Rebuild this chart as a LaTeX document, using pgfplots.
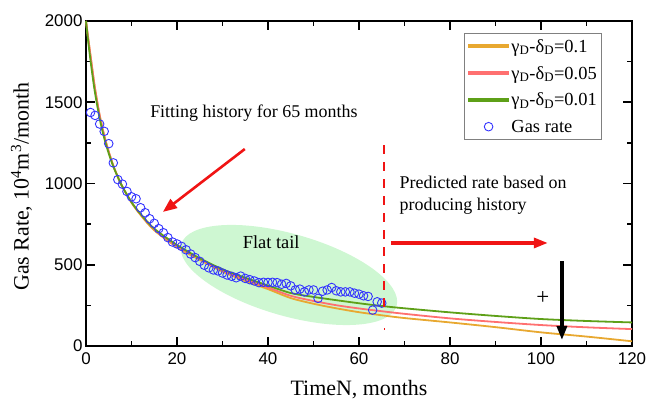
\documentclass[border=0pt]{standalone}
\usepackage{pgfplots}
\pgfplotsset{compat=1.18}
\usepackage{fontspec}
\setmainfont{Liberation Serif}
\newfontfamily\arialf{Liberation Sans}
\usetikzlibrary{arrows.meta}
\definecolor{cyel}{RGB}{232,168,48}
\definecolor{cred}{RGB}{255,112,112}
\definecolor{cgrn}{RGB}{94,160,24}
\definecolor{cblu}{RGB}{51,51,255}
\definecolor{cell}{RGB}{206,247,210}
\definecolor{carr}{RGB}{240,20,20}
\pgfplotsset{curvelegend/.style={legend image code/.code={\fill[#1] (0bp,-1.1bp) rectangle (40bp,1.1bp);}}}
\begin{document}
\begin{tikzpicture}[line width=1.8bp]
\begin{axis}[name=ax,
  scale only axis, width=546bp, height=325bp,
  xmin=0, xmax=120, ymin=0, ymax=2000,
  xtick={0,20,...,120}, ytick={0,500,...,2000},
  minor x tick num=1, minor y tick num=1,
  tick align=inside, tick pos=both,
  major tick length=9bp, minor tick length=5bp,
  axis line style={line width=1.8bp},
  every tick/.style={line width=1.6bp, black},
  /pgf/number format/assume math mode=true,
  scaled ticks=false,
  /pgf/number format/1000 sep={},
  tick label style={font=\arialf\fontsize{17}{17}\selectfont},
  xticklabel style={yshift=-3bp},
  xlabel={TimeN, months},
  ylabel={Gas Rate, 10\textsuperscript{4}m\textsuperscript{3}/month},
  label style={font=\fontsize{22}{24}\selectfont},
  xlabel style={at={(axis description cs:0.5,-0.135)}, anchor=center},
  ylabel style={at={(axis description cs:-0.118,0.49)}, anchor=center},
  legend style={at={(rel axis cs:0.945,0.963)}, anchor=north east,
    draw=gray, line width=0.5bp, font=\fontsize{18.5}{20}\selectfont,
    row sep=8.5bp, inner xsep=3bp, inner ysep=4bp, cells={anchor=west}},
  legend image code/.code={\draw[mark repeat=2,mark phase=2,#1] plot coordinates {(0bp,0bp) (20bp,0bp) (40bp,0bp)};},
  clip=false,
]
\fill[cell, rotate around={-16:(axis cs:44.6,437)}] (axis cs:44.6,437) ellipse (112bp and 41bp);

\addplot[color=cyel, line width=1.8bp, smooth, curvelegend] coordinates {
(0,2000)(0.5,1890)(1,1785)(1.5,1680)(2,1580)(3,1420)(4,1295)(5,1195)(6,1110)(7,1040)(8,980)(10,882)(12,806)(15,712)(20,608)(25,530)(30,458)(35,400)(40,350)(45,295)(50,260)(55,232)(60,208)(65,189)(70,172)(80,145)(90,116)(100,84)(110,58)(120,29)};
\addlegendentry{γ\textsubscript{D}-δ\textsubscript{D}=0.1}
\addplot[color=cred, line width=1.8bp, smooth, curvelegend] coordinates {
(0,2000)(0.5,1890)(1,1785)(1.5,1680)(2,1580)(3,1420)(4,1295)(5,1195)(6,1110)(7,1040)(8,980)(10,885)(12,810)(15,718)(20,615)(25,535)(30,465)(35,410)(40,360)(45,309)(50,277)(55,251)(60,231)(65,214)(70,198)(80,170)(90,148)(100,129)(110,115)(120,104)};
\addlegendentry{γ\textsubscript{D}-δ\textsubscript{D}=0.05}
\addplot[color=cgrn, line width=1.8bp, smooth, curvelegend] coordinates {
(0,2000)(0.5,1870)(1,1755)(1.5,1650)(2,1555)(3,1400)(4,1280)(5,1185)(6,1105)(7,1040)(8,980)(10,885)(12,812)(15,722)(20,622)(25,540)(30,472)(35,420)(40,372)(45,326)(50,302)(55,282)(60,263)(65,246)(70,232)(80,207)(90,185)(100,166)(110,154)(120,145)};
\addlegendentry{γ\textsubscript{D}-δ\textsubscript{D}=0.01}
\addplot[only marks, mark=o, mark size=4.3bp, cblu, mark options={line width=0.9bp}] coordinates {
(1,1437)(2,1419)(3,1366)(4,1321)(5,1245)(6,1127)(7,1024)(8,996)(9,951)(10,918)
(11,906)(12,851)(13,820)(14,783)(15,755)(16,722)(17,697)(18,667)(19,640)(20,628)
(21,613)(22,592)(23,566)(24,544)(25,521)(26,497)(27,481)(28,468)(29,462)(30,449)
(31,437)(32,429)(33,420)(34,430)(35,416)(36,408)(37,400)(38,390)(39,392)(40,391)
(41,392)(42,390)(43,380)(44,385)(45,370)(46,345)(47,350)(48,333)(49,345)(50,345)
(51,293)(52,337)(53,345)(54,360)(55,340)(56,333)(57,333)(58,333)(59,325)(60,319)
(61,309)(62,305)(63,221)(64,272)(65,264)};
\addlegendentry{Gas rate}

\coordinate (d1) at (axis cs:65.5,1237);
\draw[carr, line width=1bp] (axis cs:65.5,108) -- (axis cs:65.5,100);
\draw[carr, line width=2.6bp, -{Triangle[length=14bp,width=11bp]}] (axis cs:34.9,1212) -- (axis cs:16.9,825);
\draw[carr, line width=3.2bp, -{Triangle[length=14bp,width=10bp]}] (axis cs:67.0,634) -- (axis cs:101.5,634);
\draw[black, line width=3.2bp, -{Triangle[length=14bp,width=10bp]}] (axis cs:104.6,523) -- (axis cs:104.6,37);
\node[font=\fontsize{18}{20}\selectfont] at (axis cs:36.9,1434) {Fitting history for 65 months};
\node[font=\fontsize{18.5}{20}\selectfont] at (axis cs:40.7,640) {Flat tail};
\node[font=\fontsize{23}{24}\selectfont] at (axis cs:100.4,295) {+};
\node[font=\fontsize{18}{23}\selectfont, anchor=north west, align=left, inner sep=0pt] at (axis cs:68.9,1050) {Predicted rate based on\\producing history};
\end{axis}
\foreach \i in {0,...,9} {
  \fill[carr] ([xshift=-1.4bp, yshift=-\i*17bp]d1) rectangle ([xshift=1.4bp, yshift=-\i*17bp-9bp]d1);
}
\pgfresetboundingbox
\path ([shift={(-86bp,-61bp)}]ax.south west) rectangle ([shift={(15bp,21bp)}]ax.north east);
\end{tikzpicture}
\end{document}
